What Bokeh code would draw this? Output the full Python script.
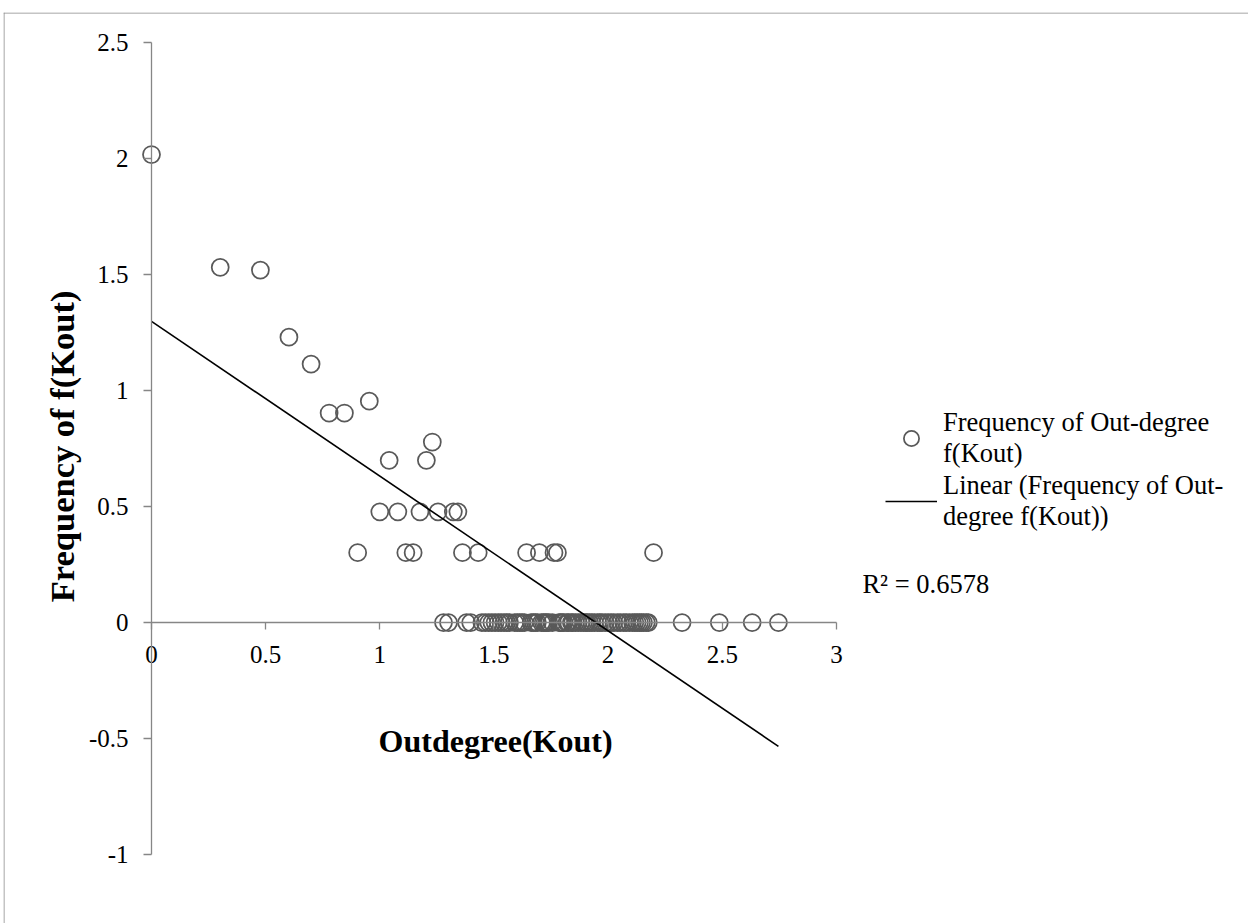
from bokeh.plotting import figure
from bokeh.models import Range1d, Label, Legend, LegendItem, FixedTicker, NumeralTickFormatter, Span
from bokeh.embed import file_html
from bokeh.resources import INLINE

# log10(out-degree) and log10(frequency)
kout_log = [0.000, 0.301, 0.477, 0.602, 0.699, 0.778, 0.845, 0.903, 0.954, 1.000,
            1.041, 1.079, 1.114, 1.146, 1.176, 1.204, 1.230, 1.255, 1.322, 1.342,
            1.362, 1.431, 1.643, 1.699, 1.763, 1.778, 2.199,
            1.279, 1.301, 1.380, 1.398, 1.447, 1.462, 1.477, 1.491, 1.505, 1.519,
            1.531, 1.544, 1.556, 1.568, 1.591, 1.602, 1.613, 1.623, 1.633, 1.663,
            1.672, 1.681, 1.690, 1.708, 1.716, 1.724, 1.732, 1.740, 1.756, 1.785,
            1.792, 1.799, 1.806, 1.820, 1.826, 1.839, 1.845, 1.857, 1.869, 1.881,
            1.892, 1.903, 1.908, 1.919, 1.929, 1.940, 1.954, 1.964, 1.973, 1.987,
            2.000, 2.013, 2.025, 2.041, 2.053, 2.068, 2.079, 2.093, 2.107, 2.117,
            2.127, 2.137, 2.146, 2.155, 2.167, 2.176, 2.324, 2.487, 2.631, 2.746]
freq_log = [2.017, 1.531, 1.519, 1.230, 1.114, 0.903, 0.903, 0.301, 0.954, 0.477,
            0.699, 0.477, 0.301, 0.301, 0.477, 0.699, 0.778, 0.477, 0.477, 0.477,
            0.301, 0.301, 0.301, 0.301, 0.301, 0.301, 0.301,
            0, 0, 0, 0, 0, 0, 0, 0, 0, 0,
            0, 0, 0, 0, 0, 0, 0, 0, 0, 0,
            0, 0, 0, 0, 0, 0, 0, 0, 0, 0,
            0, 0, 0, 0, 0, 0, 0, 0, 0, 0,
            0, 0, 0, 0, 0, 0, 0, 0, 0, 0,
            0, 0, 0, 0, 0, 0, 0, 0, 0, 0,
            0, 0, 0, 0, 0, 0, 0, 0, 0, 0]

trend_intercept = 1.298
trend_slope = -0.667
trend_x = [0.0, 2.746]
r2_text = "R\u00b2 = 0.6578"

x_ticks = [0, 0.5, 1, 1.5, 2, 2.5, 3]
y_ticks = [-1, -0.5, 0, 0.5, 1, 1.5, 2, 2.5]

FONT = "Liberation Serif"
AXIS_COLOR = "#868686"
MARK_COLOR = "#595959"
BORDER_COLOR = "#898989"

X0, X1 = -0.6483, 4.805
Y0, Y1 = -1.297, 2.629

p = figure(width=1245, height=911,
           x_range=Range1d(X0, X1), y_range=Range1d(Y0, Y1),
           output_backend="svg", toolbar_location=None,
           min_border=0, min_border_left=0, min_border_right=0,
           min_border_top=0, min_border_bottom=0,
           margin=(12, 0, 0, 3))
p.grid.visible = False
p.outline_line_color = None
p.background_fill_color = "white"
p.border_fill_color = "white"

# chart-area border (left and top edges visible in the window)
p.add_layout(Span(location=X0 + 0.5 / 228.3, dimension="height",
                  line_color=BORDER_COLOR, line_width=1))
p.add_layout(Span(location=Y1 - 0.5 / 232.0, dimension="width",
                  line_color=BORDER_COLOR, line_width=1))

for ax in (p.xaxis[0], p.yaxis[0]):
    ax.fixed_location = 0
    ax.axis_line_color = AXIS_COLOR
    ax.axis_line_width = 1.3
    ax.major_tick_line_color = AXIS_COLOR
    ax.major_tick_line_width = 1.3
    ax.major_tick_in = 0
    ax.minor_tick_line_color = None
    ax.major_label_text_font = FONT
    ax.major_label_text_font_size = "25px"
    ax.major_label_text_color = "black"
    ax.formatter = NumeralTickFormatter(format="0.[0]")

xa = p.xaxis[0]
xa.ticker = FixedTicker(ticks=x_ticks)
xa.bounds = (0, 3)
xa.major_tick_out = 7
xa.major_label_standoff = 16

ya = p.yaxis[0]
ya.ticker = FixedTicker(ticks=y_ticks)
ya.bounds = (-1, 2.5)
ya.major_tick_out = 8
ya.major_label_standoff = 15

r_pts = p.scatter(kout_log, freq_log, marker="circle", size=17,
                  fill_color=None, line_color=MARK_COLOR, line_width=1.75)
trend_y = [trend_intercept + trend_slope * xv for xv in trend_x]
r_line = p.line(trend_x, trend_y, line_color="black", line_width=1.6)

p.add_layout(Label(x=1.507, y=-0.509, text="Outdegree(Kout)", text_font=FONT,
                   text_font_size="32px", text_font_style="bold",
                   text_align="center", text_baseline="middle", text_color="black"))
p.add_layout(Label(x=-0.394, y=0.759, text="Frequency of f(Kout)", text_font=FONT,
                   text_font_size="34.5px", text_font_style="bold", angle=1.5708,
                   text_align="center", text_baseline="middle", text_color="black"))
p.add_layout(Label(x=3.114, y=0.168, text=r2_text, text_font=FONT,
                   text_font_size="26.5px", text_align="left", text_baseline="middle",
                   text_color="black"))

legend = Legend(items=[
    LegendItem(label="Frequency of Out-degree\nf(Kout)", renderers=[r_pts]),
    LegendItem(label="Linear (Frequency of Out-\ndegree f(Kout))", renderers=[r_line]),
], location=(882, 391))
legend.label_text_font = FONT
legend.label_text_font_size = "26.5px"
legend.label_text_line_height = 1.27
legend.label_text_color = "black"
legend.border_line_color = None
legend.background_fill_alpha = 0
legend.padding = 0
legend.margin = 0
legend.glyph_width = 52
legend.glyph_height = 38
legend.label_standoff = 6
legend.spacing = 1
p.add_layout(legend)

open("out.html", "w").write(file_html(p, INLINE))
